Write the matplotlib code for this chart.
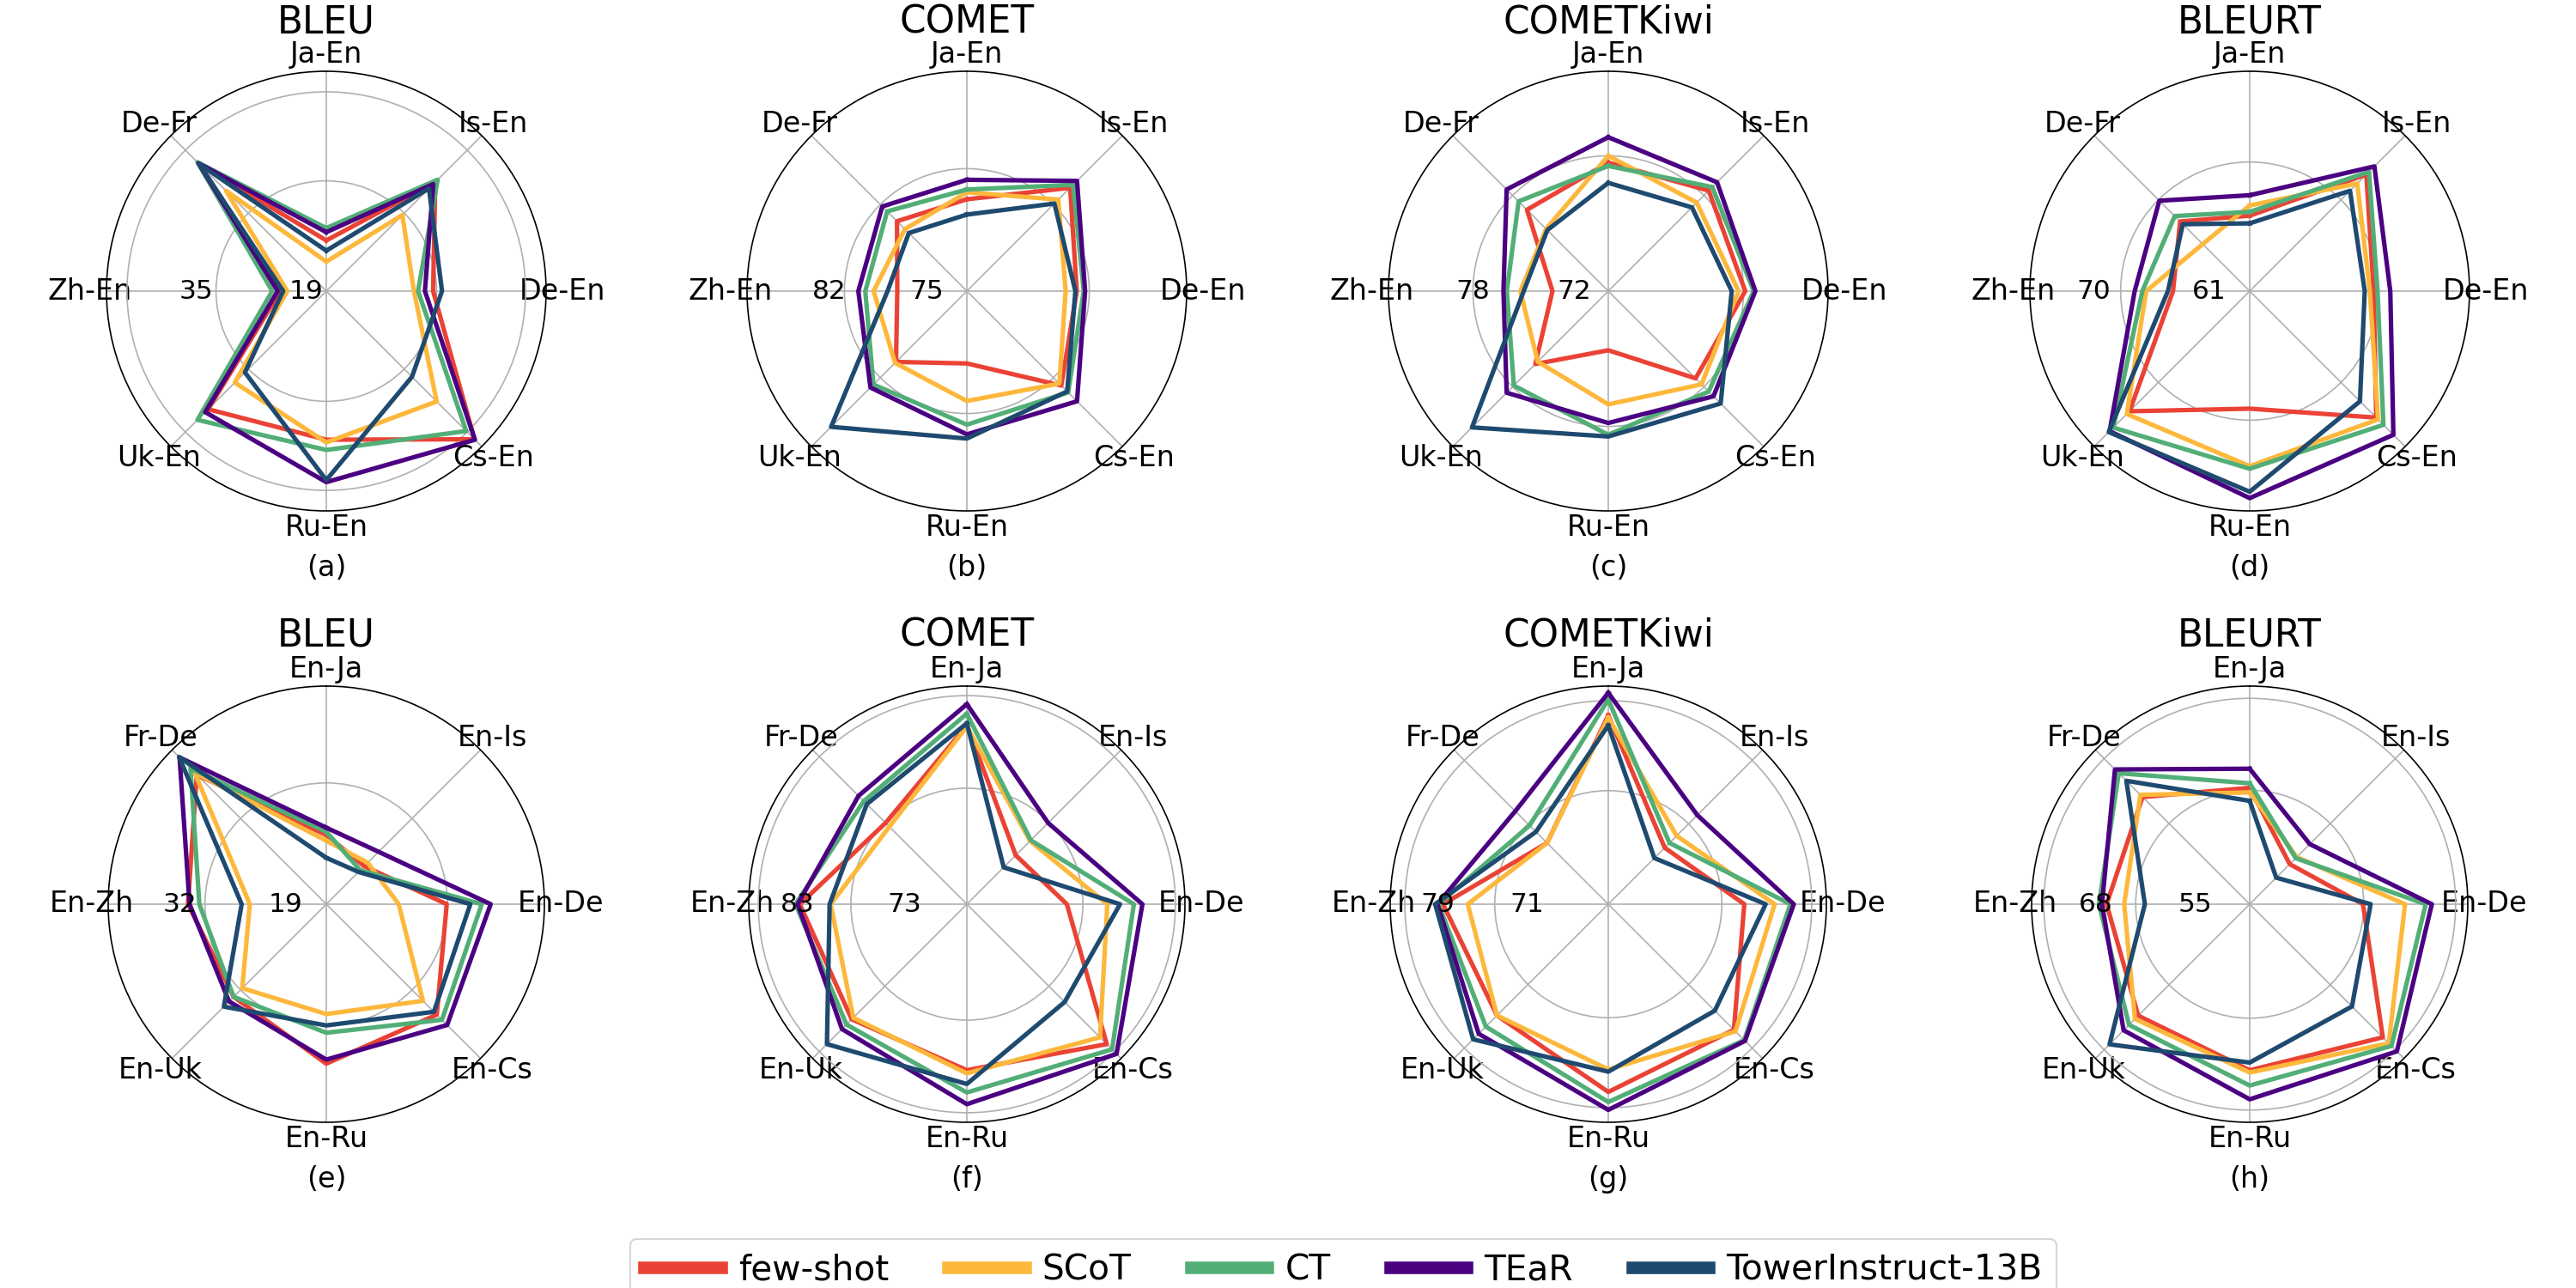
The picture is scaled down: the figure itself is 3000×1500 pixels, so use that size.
import matplotlib.pyplot as plt
import numpy as np
from matplotlib.lines import Line2D

methods = ["few-shot", "SCoT", "CT", "TEaR", "TowerInstruct-13B"]
colors = ["#EA4335", "#FDB83C", "#52AE77", "#4B0082", "#1F4A70"]

pairs_xx_en = ["Ja-En", "Is-En", "De-En", "Cs-En", "Ru-En", "Uk-En", "Zh-En", "De-Fr"]
pairs_en_xx = ["En-Ja", "En-Is", "En-De", "En-Cs", "En-Ru", "En-Uk", "En-Zh", "Fr-De"]
metric_names = ["BLEU", "COMET", "COMETKiwi", "BLEURT"]

# scores, one row per method (same order as `methods`), one column per pair
bleu_xx_en = [
    [23.4, 38.5, 31.6, 46.6, 37.7, 40.4, 22.7, 42.1],
    [20.3, 31.7, 28.8, 38.8, 38.1, 34.9, 21.7, 36.7],
    [25.2, 39.0, 29.4, 44.9, 39.2, 42.6, 23.9, 42.6],
    [24.6, 38.1, 30.4, 46.7, 43.9, 41.0, 23.1, 42.4],
    [21.9, 37.2, 32.9, 33.7, 43.6, 32.8, 22.3, 42.3],
]
comet_xx_en = [
    [78.7, 82.6, 80.0, 81.7, 77.3, 79.3, 77.1, 79.2],
    [79.2, 81.4, 79.2, 81.5, 80.0, 79.4, 78.8, 78.4],
    [79.4, 82.9, 80.5, 82.4, 81.7, 81.6, 79.4, 80.2],
    [80.1, 83.3, 80.6, 83.3, 82.4, 81.9, 79.9, 80.7],
    [77.6, 81.0, 79.9, 82.3, 82.7, 85.9, 77.8, 78.0],
]
kiwi_xx_en = [
    [77.6, 78.4, 78.1, 77.3, 73.5, 76.1, 73.3, 76.8],
    [78.0, 77.4, 77.7, 77.8, 76.7, 75.9, 75.2, 75.2],
    [77.4, 78.7, 78.6, 78.4, 78.5, 77.9, 76.0, 77.5],
    [79.1, 79.1, 78.7, 78.8, 77.8, 78.5, 76.2, 78.5],
    [76.4, 77.0, 77.3, 79.4, 78.6, 81.4, 75.0, 75.1],
]
bleurt_xx_en = [
    [63.7, 70.7, 67.5, 71.8, 67.0, 71.1, 63.8, 65.5],
    [64.5, 69.7, 67.2, 72.0, 71.5, 71.4, 65.9, 63.0],
    [64.0, 71.0, 67.8, 72.6, 71.7, 72.9, 66.2, 66.1],
    [65.3, 71.6, 68.8, 73.7, 74.0, 73.3, 66.8, 67.8],
    [63.1, 68.9, 66.8, 70.0, 73.5, 73.4, 64.2, 65.2],
]
bleu_en_xx = [
    [22.5, 20.6, 28.8, 33.2, 33.6, 30.1, 31.0, 36.5],
    [21.8, 21.2, 22.9, 30.8, 27.5, 28.6, 23.4, 36.9],
    [22.9, 19.9, 33.1, 34.1, 29.8, 30.1, 29.6, 37.6],
    [23.4, 23.1, 34.2, 35.0, 33.1, 30.9, 30.8, 39.5],
    [19.7, 19.6, 31.7, 32.7, 28.9, 31.8, 24.4, 39.6],
]
comet_en_xx = [
    [83.9, 73.6, 76.5, 85.7, 82.7, 82.4, 82.8, 77.9],
    [83.8, 75.5, 80.3, 84.8, 83.0, 82.2, 79.9, 77.4],
    [85.0, 75.6, 82.8, 86.4, 84.8, 83.1, 83.2, 80.8],
    [85.9, 77.9, 83.6, 87.0, 85.9, 83.7, 83.0, 81.5],
    [84.1, 72.0, 81.5, 80.1, 84.0, 85.7, 80.0, 80.4],
]
kiwi_en_xx = [
    [80.6, 70.9, 75.9, 79.6, 80.5, 77.8, 78.5, 71.5],
    [80.4, 72.4, 78.6, 79.8, 78.5, 77.8, 76.3, 71.5],
    [82.0, 71.5, 80.0, 80.9, 81.4, 79.2, 78.9, 73.7],
    [82.6, 75.0, 80.3, 81.0, 82.1, 80.1, 79.0, 75.5],
    [79.7, 69.6, 77.8, 77.2, 78.7, 80.8, 79.2, 72.9],
]
bleurt_en_xx = [
    [63.1, 55.3, 62.7, 72.5, 69.6, 68.5, 66.6, 67.7],
    [62.5, 56.6, 68.2, 73.6, 69.9, 69.1, 64.3, 68.1],
    [63.7, 56.4, 70.9, 74.1, 71.6, 70.2, 67.6, 72.1],
    [65.6, 59.0, 71.7, 75.1, 73.4, 71.2, 67.2, 72.8],
    [61.4, 52.8, 63.7, 66.8, 68.6, 73.8, 61.6, 70.7],
]

# radial axis per panel (a)..(h): value at centre, value at rim, grid circles,
# and the two numbers printed along the left spoke
r_lo = [16.0, 72.1, 70.0, 57.8, 14.0, 67.1, 63.8, 47.9]
r_hi = [48.1, 87.9, 83.0, 75.0, 40.8, 87.6, 83.2, 76.4]
r_grid = [[32.1, 45.1], [80.9], [78.0], [67.9], [28.9], [78.0, 86.7], [73.9, 81.9], [62.8, 74.8]]
r_labels = [(19, 35), (75, 82), (72, 78), (61, 70), (19, 32), (73, 83), (71, 79), (55, 68)]

panels = [bleu_xx_en, comet_xx_en, kiwi_xx_en, bleurt_xx_en,
          bleu_en_xx, comet_en_xx, kiwi_en_xx, bleurt_en_xx]
letters = "abcdefgh"

W, H = 3000, 1500
fig = plt.figure(figsize=(20, 10), dpi=150)

centre_x = [380, 1126, 1873, 2620]
centre_y = [339, 1053]
radius = [256, 254]
title_y = [1.087, 1.091]

angles = np.arange(8) * 2 * np.pi / 8
closed = np.append(angles, angles[0])

for i, scores in enumerate(panels):
    row, col = divmod(i, 4)
    cx, cy, rad = centre_x[col], centre_y[row], radius[row]
    ax = fig.add_axes([(cx - rad) / W, 1 - (cy + rad) / H, 2 * rad / W, 2 * rad / H],
                      polar=True)
    ax.set_theta_offset(np.pi / 2)
    ax.set_theta_direction(-1)

    for vals, c in zip(scores, colors):
        ax.plot(closed, np.append(vals, vals[0]), color=c, lw=2.5)

    ax.set_ylim(r_lo[i], r_hi[i])
    ax.set_yticks(r_grid[i])
    ax.set_yticklabels([])
    ax.set_xticks(angles)
    ax.set_xticklabels(pairs_xx_en if row == 0 else pairs_en_xx, fontsize=16)
    ax.tick_params(axis="x", pad=-1.3)
    ax.grid(True, color="#b0b0b0", lw=0.8)
    ax.spines["polar"].set_linewidth(0.8)

    for v in r_labels[i]:
        ax.text(angles[6], v, str(v), ha="center", va="center", fontsize=15)

    ax.text(0.5, title_y[row], metric_names[col], transform=ax.transAxes,
            ha="center", va="baseline", fontsize=21)
    ax.text(0.5, -0.13, f"({letters[i]})", transform=ax.transAxes,
            ha="center", va="center", fontsize=16)

handles = [Line2D([], [], color=c, lw=7) for c in colors]
fig.legend(handles, methods, loc="lower center", bbox_to_anchor=(0.5215, -0.024),
           ncol=5, fontsize=19.5, handlelength=2.2, handletextpad=0.5,
           columnspacing=1.7, frameon=True)

fig.savefig("out.png", dpi=150)
